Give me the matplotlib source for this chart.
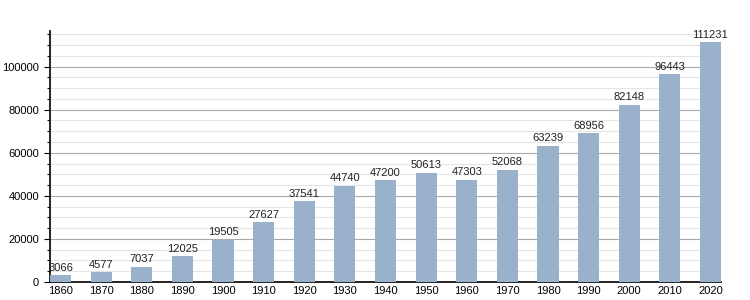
import matplotlib
matplotlib.use("Agg")
import matplotlib.pyplot as plt
from matplotlib.ticker import MultipleLocator

years = ["1860", "1870", "1880", "1890", "1900", "1910", "1920", "1930", "1940",
         "1950", "1960", "1970", "1980", "1990", "2000", "2010", "2020"]
population = [3066, 4577, 7037, 12025, 19505, 27627, 37541, 44740, 47200,
              50613, 47303, 52068, 63239, 68956, 82148, 96443, 111231]

plt.rcParams['font.family'] = ['Liberation Sans', 'DejaVu Sans']

fig = plt.figure(figsize=(7.5, 3), dpi=100)
ax = fig.add_axes([50/750, 18/300, 671/750, 251/300])

x = list(range(len(years)))
ax.bar(x, population, width=0.52, color="#9ab1cb", zorder=3)
for xi, v in zip(x, population):
    ax.text(xi, v + 1200, str(v), ha="center", va="bottom", fontsize=8, color="#222222", zorder=4)

ax.set_xlim(-0.26, len(years) - 1 + 0.26)
ax.set_ylim(0, 116500)
ax.yaxis.set_major_locator(MultipleLocator(20000))
ax.yaxis.set_minor_locator(MultipleLocator(5000))
ax.grid(which="major", axis="y", color="#aaaaaa", linewidth=0.8, zorder=0)
ax.grid(which="minor", axis="y", color="#e4e4e4", linewidth=0.8, zorder=0)
ax.set_xticks(x)
ax.set_xticklabels(years)
ax.tick_params(axis="x", length=0, labelsize=8, pad=3)
ax.tick_params(axis="y", which="major", length=4, width=0.8, labelsize=8, pad=4)
ax.tick_params(axis="y", which="minor", length=2, width=0.8)
for s in ["top", "right"]:
    ax.spines[s].set_visible(False)
ax.spines["left"].set_linewidth(1.2)
ax.spines["bottom"].set_linewidth(1.2)

fig.savefig("out.png", dpi=100)
